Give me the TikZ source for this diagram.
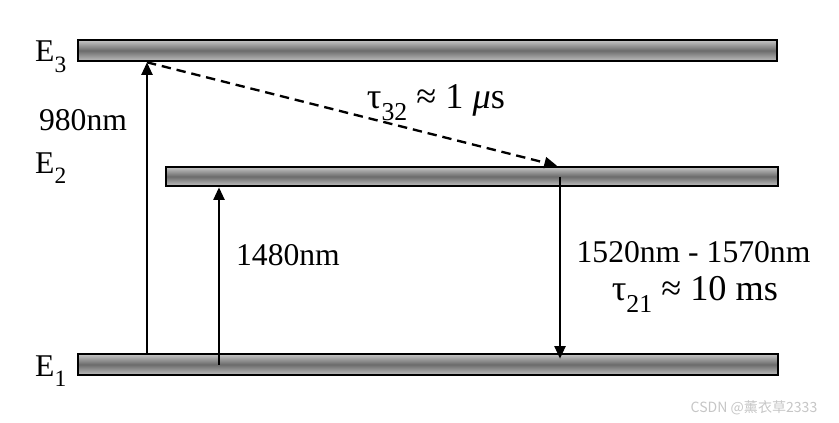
\documentclass[tikz,border=0pt]{standalone}
\usepackage{fontspec}
\setmainfont{Liberation Serif}
\newfontfamily\cjk{Noto Sans CJK SC}
\usetikzlibrary{arrows.meta,calc,positioning}
\newcommand{\lowsub}[2][22]{\raisebox{-0.34em}{\fontsize{#1}{#1}\selectfont #2}}
\tikzset{
  level/.style={rectangle,draw=black,line width=2.2pt,top color=black!22,
    bottom color=black!25,middle color=black!58,inner sep=0pt,
    minimum height=0.63cm},
  lbl/.style={font=\fontsize{27}{30}\selectfont,inner sep=0pt,anchor=base},
  tlbl/.style={font=\fontsize{31}{34}\selectfont,inner sep=0pt,anchor=base},
  elbl/.style={font=\fontsize{27}{30}\selectfont,inner sep=0pt,
    anchor=base west},
  arr/.style={-{Triangle[length=3.8mm,width=3.3mm]},line width=2pt},
  decay/.style={arr,dash pattern=on 8pt off 5pt},
  wmark/.style={text=gray!45,font=\cjk\fontsize{12}{14}\selectfont,
    inner sep=0pt,anchor=base}
}

\begin{document}
\begin{tikzpicture}[x=0.03cm,y=-0.03cm]
  \useasboundingbox (0,0) rectangle (839,423);
  % energy levels
  \node[level,minimum width=20.97cm] (e3) at (427.5,50.5) {};
  \node[level,minimum width=18.36cm,minimum height=0.57cm] (e2) at (472,176.5) {};
  \node[level,minimum width=21cm] (e1) at (428,364.5) {};
  \node[elbl] (le3) at (35,62) {E\lowsub[20]{3}};
  \node[elbl] (le2) at (35,173) {E\lowsub[20]{2}};
  \node[elbl] (le1) at (35,376) {E\lowsub[20]{1}};
  % transitions
  \coordinate (p980) at (147,0);
  \coordinate (p1480) at (219,0);
  \coordinate (q32) at (557,0);
  \coordinate (p1550) at (560,0);
  \draw[arr] (e1.north -| p980) -- (e3.south -| p980);
  \draw[arr] (e1.center -| p1480) -- (e2.south -| p1480);
  \draw[decay] (e3.south -| p980) -- (e2.north -| q32);
  \draw[arr] (e2.center -| p1550) -- ($(e1.north -| p1550)+(0,6)$);
  % labels
  \node[lbl] (l980) at (83,130) {980nm};
  \node[lbl] (l1480) at (288,265) {1480nm};
  \node[lbl] (l1550) at (693.5,262) {1520nm - 1570nm};
  \node[tlbl] (t21) at (695,300) {τ\lowsub{21} ≈ 10 ms};
  \node[tlbl] (t32) at (436,108) {τ\lowsub{32} ≈ 1 \textit{μ}s};
  \node[wmark] (wm) at (754,412) {CSDN @薰衣草2333};
\end{tikzpicture}
\end{document}
